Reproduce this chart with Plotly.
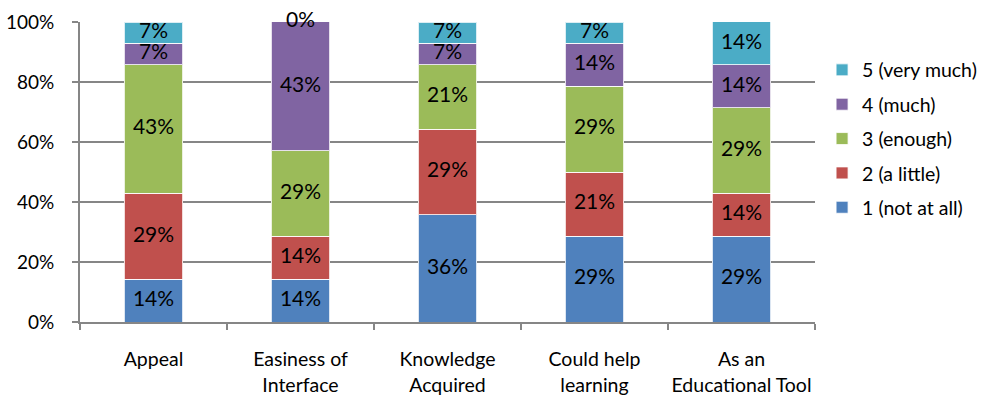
import plotly.graph_objects as go

categories = ["Appeal", "Easiness of<br>Interface", "Knowledge<br>Acquired", "Could help<br>learning", "As an<br>Educational Tool"]
series_names = ["1 (not at all)", "2 (a little)", "3 (enough)", "4 (much)", "5 (very much)"]
colors = ["#4F81BD", "#C0504D", "#9BBB59", "#8064A2", "#4BACC6"]
# percentages (of 14 respondents)
s1 = [14.29, 14.29, 35.71, 28.57, 28.57]
s2 = [28.57, 14.29, 28.57, 21.43, 14.29]
s3 = [42.86, 28.57, 21.43, 28.57, 28.57]
s4 = [7.14, 42.86, 7.14, 14.29, 14.29]
s5 = [7.14, 0.0, 7.14, 7.14, 14.29]
series = [s1, s2, s3, s4, s5]
y_ticks = [0, 20, 40, 60, 80, 100]

FONT = "Lato"
fig = go.Figure()
n = len(series)
for i, (name, vals) in enumerate(zip(series_names, series)):
    fig.add_trace(go.Bar(
        x=categories, y=vals, name=name, marker_color=colors[i],
        marker_line=dict(color="rgba(255,255,255,0.8)", width=1),
        legendgroup=name, legendrank=n - i, hoverinfo="skip",
    ))

# data labels at segment midpoints
lx, ly, lt = [], [], []
for j, c in enumerate(categories):
    base = 0
    for vals in series:
        v = vals[j]
        lx.append(c)
        ly.append(min(base + v / 2, 100))
        lt.append(f"{round(v)}%")
        base += v
fig.add_trace(go.Scatter(
    x=lx, y=ly, text=lt, mode="text", showlegend=False, hoverinfo="skip",
    textfont=dict(family=FONT, size=21, color="black"), cliponaxis=False,
))

fig.update_layout(
    barmode="stack", bargap=0.6,
    width=981, height=396,
    margin=dict(l=80, r=166, t=22, b=74, autoexpand=False),
    plot_bgcolor="white", paper_bgcolor="white",
    font=dict(family=FONT, size=18, color="black"),
    legend=dict(
        traceorder="grouped", xref="container", yref="container",
        x=0.838, y=0.872, xanchor="left", yanchor="top",
        font=dict(family=FONT, size=19.5), tracegroupgap=6,
        itemwidth=30,
    ),
    showlegend=True,
)
fig.update_xaxes(
    automargin=False, tickfont=dict(size=19.5), tickangle=0,
    showline=True, linecolor="#868686", linewidth=2,
    ticks="outside", tickson="boundaries", ticklen=6, tickcolor="#868686", tickwidth=2,
    ticklabelstandoff=19,
)
fig.update_yaxes(
    automargin=False, tickfont=dict(size=19),
    range=[0, 100], tickvals=y_ticks, ticktext=[f"{t}%" for t in y_ticks],
    showline=True, linecolor="#868686", linewidth=2,
    ticks="outside", ticklen=6, tickcolor="#868686", tickwidth=2,
    ticklabelstandoff=14,
    showgrid=True, gridcolor="#868686", gridwidth=2, zeroline=False,
)
fig.write_html("out.html")
